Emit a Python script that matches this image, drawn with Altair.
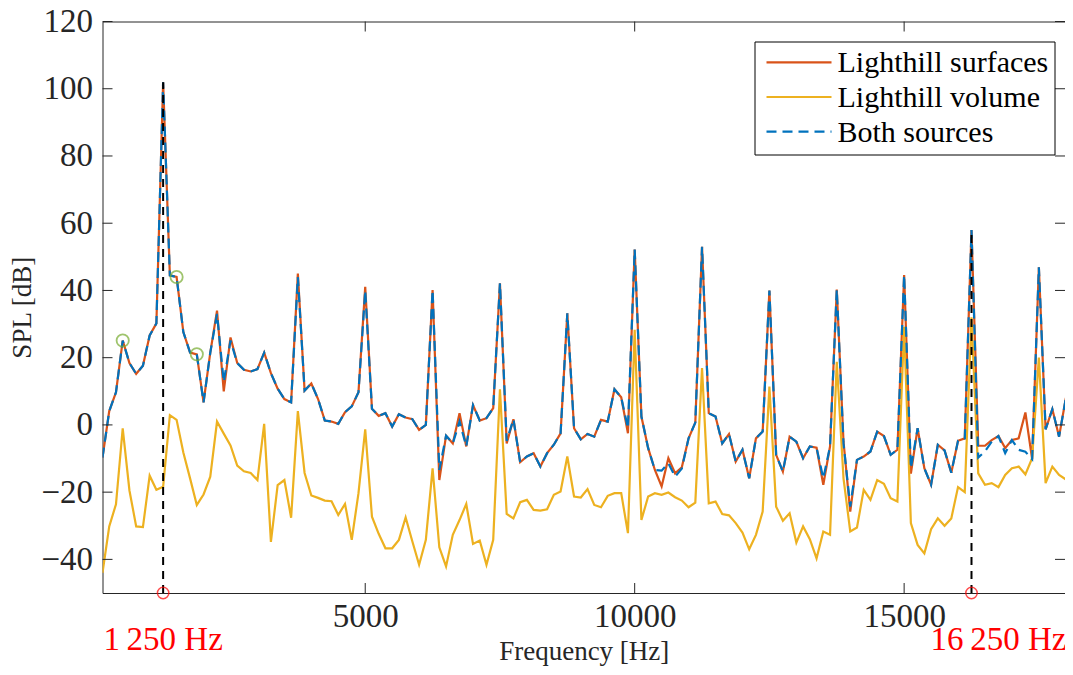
import altair as alt
import pandas as pd

# ---------------- data ----------------
freq = [125, 250, 375, 500, 625, 750, 875, 1000, 1125, 1250,
        1375, 1500, 1625, 1750, 1875, 2000, 2125, 2250, 2375, 2500,
        2625, 2750, 2875, 3000, 3125, 3250, 3375, 3500, 3625, 3750,
        3875, 4000, 4125, 4250, 4375, 4500, 4625, 4750, 4875, 5000,
        5125, 5250, 5375, 5500, 5625, 5750, 5875, 6000, 6125, 6250,
        6375, 6500, 6625, 6750, 6875, 7000, 7125, 7250, 7375, 7500,
        7625, 7750, 7875, 8000, 8125, 8250, 8375, 8500, 8625, 8750,
        8875, 9000, 9125, 9250, 9375, 9500, 9625, 9750, 9875, 10000,
        10125, 10250, 10375, 10500, 10625, 10750, 10875, 11000, 11125, 11250,
        11375, 11500, 11625, 11750, 11875, 12000, 12125, 12250, 12375, 12500,
        12625, 12750, 12875, 13000, 13125, 13250, 13375, 13500, 13625, 13750,
        13875, 14000, 14125, 14250, 14375, 14500, 14625, 14750, 14875, 15000,
        15125, 15250, 15375, 15500, 15625, 15750, 15875, 16000, 16125, 16250,
        16375, 16500, 16625, 16750, 16875, 17000, 17125, 17250, 17375, 17500,
        17625, 17750, 17875, 18000, 18125]

surfaces = [-9.7, 4.1, 9.7, 25.1, 18.4, 15.2, 17.6, 26.6, 30.2, 101.9,
            44.5, 44.0, 27.6, 21.5, 21.0, 6.7, 21.5, 34.0, 10.0, 26.0,
            18.4, 16.4, 15.9, 16.6, 21.5, 15.4, 10.8, 7.7, 6.7, 45.0,
            10.2, 12.3, 7.7, 1.3, 1.0, 0.3, 3.8, 5.5, 9.7, 41.1,
            4.8, 2.7, 3.5, -0.5, 3.2, 2.2, 1.7, -1.5, 0.0, 40.1,
            -16.4, -3.2, -5.5, 3.5, -6.4, 5.9, 1.3, 2.0, 5.0, 42.1,
            -5.5, 1.7, -11.1, -9.4, -8.4, -12.4, -8.4, -5.9, -2.5, 33.2,
            -1.0, -4.3, -2.7, -3.5, 1.5, 1.0, 10.6, 8.2, -2.5, 52.2,
            2.5, -6.9, -13.4, -18.3, -9.9, -14.4, -12.6, -4.0, 0.7, 53.0,
            3.5, 2.5, -5.5, -2.7, -10.9, -7.4, -15.9, -4.0, -2.0, 40.0,
            -8.9, -13.9, -3.5, -5.0, -9.9, -6.4, -6.8, -17.8, -6.4, 40.3,
            -5.0, -25.8, -10.4, -9.4, -7.9, -2.0, -3.3, -8.9, -7.4, 44.6,
            -14.5, -1.0, -12.9, -17.8, -5.9, -7.6, -14.2, -4.7, -4.0, 58.0,
            -6.2, -6.2, -4.5, -3.3, -6.9, -4.5, -4.0, 3.7, -10.2, 46.9,
            -1.3, 4.7, -3.5, 7.9, 10.9]

volume = [-44.0, -30.2, -23.6, -1.0, -19.5, -30.2, -30.4, -15.1, -19.3, -18.4,
          2.9, 1.5, -8.2, -15.9, -23.8, -20.7, -15.4, 1.0, -2.6, -6.1,
          -12.1, -13.8, -14.3, -16.4, 0.3, -34.8, -17.9, -16.4, -27.6, 4.1,
          -14.3, -21.0, -21.7, -22.5, -22.7, -26.8, -23.5, -34.2, -20.3, -1.3,
          -27.3, -32.4, -36.7, -36.7, -34.2, -27.5, -34.7, -41.6, -34.2, -12.9,
          -36.4, -42.1, -32.7, -28.3, -23.5, -35.4, -34.4, -41.6, -34.2, 10.6,
          -26.5, -27.8, -23.0, -22.3, -25.3, -25.5, -25.1, -20.8, -19.8, -9.4,
          -21.3, -21.6, -19.1, -23.8, -24.5, -21.1, -20.3, -20.3, -32.2, 28.3,
          -28.3, -21.3, -20.3, -20.8, -20.1, -21.5, -22.5, -24.5, -23.1, 16.9,
          -23.3, -22.8, -26.5, -26.9, -29.2, -32.0, -37.0, -32.7, -25.8, 11.4,
          -24.3, -28.5, -26.3, -35.0, -30.2, -34.0, -39.7, -31.7, -32.7, 18.8,
          -15.9, -31.7, -30.5, -19.3, -22.3, -16.4, -17.5, -21.8, -22.8, 29.2,
          -29.2, -35.7, -38.2, -31.0, -27.8, -30.0, -27.8, -18.5, -20.0, 32.0,
          -14.4, -17.8, -17.3, -18.5, -14.9, -12.9, -12.4, -14.7, -9.9, 20.0,
          -17.3, -12.4, -14.9, -16.2, -18.8]

both = [-9.7, 4.1, 9.7, 25.1, 18.4, 15.2, 17.6, 26.6, 30.2, 101.9,
        44.5, 44.0, 27.6, 21.5, 21.0, 6.7, 21.5, 33.0, 12.8, 25.1,
        18.4, 16.4, 15.9, 16.6, 21.5, 15.4, 10.8, 7.7, 6.7, 44.0,
        10.2, 12.3, 7.7, 1.3, 1.0, 0.3, 3.8, 5.5, 9.7, 40.0,
        4.8, 2.7, 3.5, -0.5, 3.2, 2.2, 1.7, -1.5, 0.0, 40.1,
        -13.4, -3.2, -5.5, 1.0, -6.4, 5.9, 1.3, 2.0, 5.0, 42.1,
        -4.8, 1.7, -11.1, -9.4, -8.4, -12.4, -8.4, -5.9, -2.5, 33.2,
        -1.0, -4.3, -2.7, -3.5, 1.5, 1.0, 10.6, 8.2, -1.0, 52.2,
        2.5, -6.9, -13.4, -13.6, -11.4, -15.4, -13.0, -4.0, 0.7, 53.0,
        3.5, 2.5, -5.5, -2.7, -10.9, -7.4, -15.9, -4.0, -2.0, 40.0,
        -8.9, -13.9, -3.5, -5.0, -9.9, -6.4, -6.8, -15.9, -6.4, 40.3,
        -5.5, -24.3, -10.4, -9.4, -7.9, -2.0, -3.3, -8.9, -7.4, 44.6,
        -12.9, -1.0, -12.9, -17.8, -5.9, -7.6, -14.2, -4.7, -4.0, 58.0,
        -9.7, -7.9, -5.0, -3.3, -8.4, -4.5, -7.4, -8.0, -10.2, 46.9,
        -1.3, 4.7, -3.5, 7.9, 10.9]

series_names = ["Lighthill surfaces", "Lighthill volume", "Both sources"]
marked_f = [1250, 16250]
marked_peak = [101.9, 58.0]
marked_text = ["1\u2009250 Hz", "16\u2009250 Hz"]
circle_f = [500, 1500, 1875]
circle_spl = [25.1, 44.0, 21.0]
y_ticks = [-40, -20, 0, 20, 40, 60, 80, 100, 120]
x_ticks = [5000, 10000, 15000]
x_limits = [125, 17985]
y_limits = [-50, 120]

# ---------------- styling ----------------
FONT = "Liberation Serif"
C_SURF = "#D95319"
C_VOL = "#EDB120"
C_BOTH = "#0072BD"
AX = "#262626"
W, H = 962.5, 571.5

df = pd.DataFrame({"f": freq, "surf": surfaces, "vol": volume, "both": both})

xs = alt.Scale(domain=x_limits, nice=False, zero=False)
ys = alt.Scale(domain=y_limits, nice=False, zero=False)
x_axis = alt.Axis(values=x_ticks, title="Frequency [Hz]", format="d",
                  labelFontSize=33, titleFontSize=27, labelPadding=7,
                  titlePadding=5)
y_axis = alt.Axis(values=y_ticks, title="SPL [dB]", format="d",
                  labelFontSize=33, titleFontSize=27, labelPadding=10,
                  titlePadding=4)


def X(field="f"):
    return alt.X(f"{field}:Q", scale=xs, axis=x_axis)


def Y(field):
    return alt.Y(f"{field}:Q", scale=ys, axis=y_axis)


base = alt.Chart(df)
surf_line = base.mark_line(color=C_SURF, strokeWidth=2.2, clip=True).encode(
    x=X(), y=Y("surf"))
vol_line = base.mark_line(color=C_VOL, strokeWidth=2.2, clip=True).encode(
    x=X(), y=Y("vol"))
both_line = base.mark_line(color=C_BOTH, strokeWidth=2.2, strokeDash=[10, 6],
                           clip=True).encode(x=X(), y=Y("both"))

mk = pd.DataFrame({"f": marked_f, "lo": [-50, -50], "hi": marked_peak, "t": marked_text})
vlines = alt.Chart(mk).mark_rule(color="black", strokeWidth=2, strokeDash=[8, 6]).encode(
    x=X(), y=Y("lo"), y2="hi:Q")
red_pts = alt.Chart(mk).mark_point(shape="circle", filled=False, color="#FF0000",
                                   size=130, strokeWidth=1.5).encode(x=X(), y=Y("lo"))

gr = pd.DataFrame({"f": circle_f, "spl": circle_spl})
green_pts = alt.Chart(gr).mark_point(shape="circle", filled=False, color="#77AC30",
                                     size=150, strokeWidth=1.8).encode(x=X(), y=Y("spl"))

lab1 = alt.Chart(mk.iloc[[0]]).mark_text(font=FONT, fontSize=33, color="#FF0000",
                                         baseline="middle", align="center", dy=47).encode(
    x=X(), y=Y("lo"), text="t:N")
lab2 = alt.Chart(mk.iloc[[1]]).mark_text(font=FONT, fontSize=33, color="#FF0000",
                                         baseline="middle", align="center", dy=47, dx=27).encode(
    x=X(), y=Y("lo"), text="t:N")

# inward ticks (MATLAB style) on all four sides
yt = pd.DataFrame({"v": y_ticks})
xt = pd.DataFrame({"v": x_ticks})
tick_style = dict(color=AX, strokeWidth=1)
yt_left = alt.Chart(yt).mark_rule(**tick_style).encode(
    y=alt.Y("v:Q", scale=ys, axis=y_axis), x=alt.value(0), x2=alt.value(10))
yt_right = alt.Chart(yt).mark_rule(**tick_style).encode(
    y=alt.Y("v:Q", scale=ys, axis=y_axis), x=alt.value(W - 10), x2=alt.value(W))
xt_bot = alt.Chart(xt).mark_rule(**tick_style).encode(
    x=alt.X("v:Q", scale=xs, axis=x_axis), y=alt.value(H), y2=alt.value(H - 10))
xt_top = alt.Chart(xt).mark_rule(**tick_style).encode(
    x=alt.X("v:Q", scale=xs, axis=x_axis), y=alt.value(0), y2=alt.value(10))

# legend box
one = pd.DataFrame({"a": [0]})
leg_box = alt.Chart(one).mark_rect(fill="white", stroke="black", strokeWidth=1).encode(
    x=alt.value(652.5), x2=alt.value(952.5), y=alt.value(20.5), y2=alt.value(133.5))
leg_layers = [leg_box]
leg_rows = [(40.8, C_SURF, None), (75.5, C_VOL, None), (110.2, C_BOTH, [10, 6])]
for name, (yy, col, dash) in zip(series_names, leg_rows):
    kw = dict(color=col, strokeWidth=2.2)
    if dash:
        kw["strokeDash"] = dash
    leg_layers.append(alt.Chart(one).mark_rule(**kw).encode(
        x=alt.value(664), x2=alt.value(729), y=alt.value(yy)))
    leg_layers.append(alt.Chart(one).mark_text(
        text=name, font=FONT, fontSize=30, color="black", align="left",
        baseline="middle").encode(x=alt.value(735), y=alt.value(yy + 1)))

chart = alt.layer(
    surf_line, vol_line, both_line, vlines, green_pts, red_pts,
    yt_left, yt_right, xt_bot, xt_top, lab1, lab2, *leg_layers
).properties(
    width=W, height=H,
    autosize=alt.AutoSizeParams(type="none"),
    padding={"left": 94.5, "top": 13.5, "right": 0, "bottom": 73},
    background="white",
).configure_view(
    stroke=AX, strokeWidth=1
).configure_axis(
    grid=False, domain=False, ticks=False, tickSize=0,
    labelFont=FONT, titleFont=FONT, labelColor=AX, titleColor=AX,
    titleFontWeight="normal",
)

chart.save("out.html", embed_options={"renderer": "svg", "actions": False})
